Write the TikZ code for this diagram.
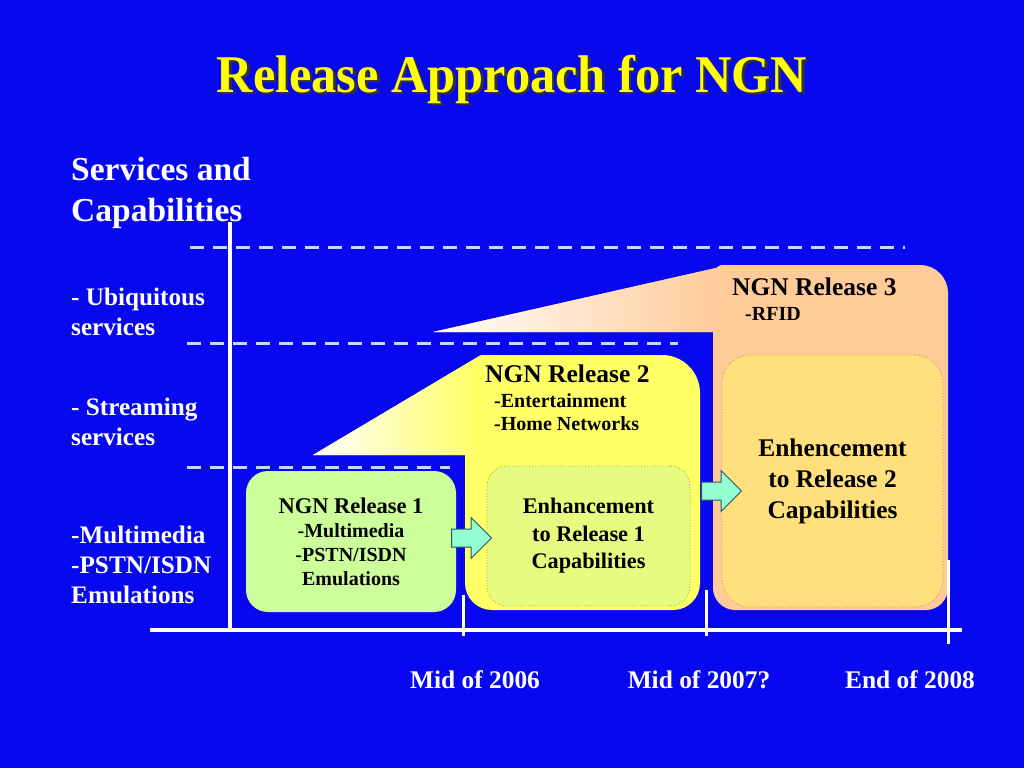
\documentclass[tikz,border=0pt]{standalone}
\usepackage{fontspec}
\usepackage{graphicx}
\setmainfont{Liberation Serif}
\usetikzlibrary{shapes.arrows}
\definecolor{bg}{RGB}{8,8,240}
\definecolor{dashcol}{RGB}{200,215,255}
\definecolor{titlecol}{RGB}{255,255,0}
\definecolor{r1col}{RGB}{204,255,153}
\definecolor{r2col}{RGB}{255,255,102}
\definecolor{r3col}{RGB}{255,204,153}
\definecolor{e1col}{RGB}{230,252,128}
\definecolor{e2col}{RGB}{255,224,125}
\definecolor{e1line}{RGB}{150,150,60}
\definecolor{e2line}{RGB}{180,140,80}
\definecolor{arrfill}{RGB}{150,255,210}
\definecolor{arrline}{RGB}{40,90,90}
\newcommand{\fsz}[2]{\fontsize{#1}{#2}\selectfont\bfseries}
\begin{document}
\begin{tikzpicture}[x=1pt,y=-1pt,
  lbl/.style={inner sep=0pt, text=white, align=left, anchor=base west},
  boxtxt/.style={inner sep=0pt, text=black, align=left, anchor=base west},
  datelbl/.style={inner sep=0pt, text=white, anchor=base, font=\fsz{25.4}{30}},
  dashln/.style={draw=dashcol, line width=3pt, dash pattern=on 14pt off 9pt},
  axis/.style={draw=white, line width=4pt},
  tick/.style={draw=white, line width=3pt},
  inbox/.style={rounded corners=20pt, draw=e1line, dotted, line width=0.8pt, fill=e1col,
    text=black, align=center, inner sep=0pt},
  blockarrow/.style={single arrow, draw=arrline, fill=arrfill, line width=1pt,
    inner xsep=0pt, inner ysep=8.5pt, minimum height=40pt,
    single arrow head extend=11.5pt}
]
\useasboundingbox (0,0) rectangle (1024,768);
\fill[bg] (0,0) rectangle (1024,768);

% title
\node[inner sep=0pt, anchor=base, text=black!80, font=\fsz{53}{60}] (titleshadow) at (514.5,94.5)
  {\scalebox{0.95}[1]{Release Approach for NGN}};
\node[inner sep=0pt, anchor=base, text=titlecol, font=\fsz{53}{60}] (title) at (512,92)
  {\scalebox{0.95}[1]{Release Approach for NGN}};

% dashed level lines
\coordinate (d1a) at (190,247); \coordinate (d1b) at (905,247);
\coordinate (d2a) at (187,343); \coordinate (d2b) at (678,343);
\coordinate (d3a) at (187,467); \coordinate (d3b) at (450,467);
\draw[dashln] (d1a) -- (d1b);
\draw[dashln] (d2a) -- (d2b);
\draw[dashln] (d3a) -- (d3b);

% axes
\coordinate (ytop) at (230,222); \coordinate (ybot) at (230,630);
\coordinate (xl) at (150,630); \coordinate (xr) at (962,630);
\draw[axis] (ytop) -- (ybot);
\draw[axis] (xl) -- (xr);

% release 3 shape
\fill[r3col] (433,332) -- (716,268) .. controls (718,266) and (720,265) .. (724,265)
  -- (920,265) .. controls (935.5,265) and (948,277.5) .. (948,293)
  -- (948,588) .. controls (948,600) and (938,610) .. (926,610)
  -- (735,610) .. controls (723,610) and (713,600) .. (713,588)
  -- (713,332) -- cycle;
\shade[left color=white, right color=r3col] (433,332) -- (716,268) -- (716,332) -- cycle;

% release 2 shape
\fill[r2col] (313,455) -- (476,358) .. controls (478,356) and (480,355) .. (484,355)
  -- (662,355) .. controls (683,355) and (700,372) .. (700,393)
  -- (700,583) .. controls (700,598) and (688,610) .. (673,610)
  -- (492,610) .. controls (477,610) and (465,598) .. (465,583)
  -- (465,455) -- cycle;
\shade[left color=white, right color=r2col] (313,455) -- (476,358) -- (476,455) -- cycle;

% release 1 box
\node[fill=r1col, rounded corners=22pt, minimum width=210pt, minimum height=141pt,
  inner sep=0pt, align=center, text=black, font=\fsz{20}{24}] (r1) at (351,541.5)
  {{\fsz{22.5}{24}NGN Release 1}\\
   -Multimedia\\
   -PSTN/ISDN\\
   Emulations};

% inner enhancement boxes
\node[inbox, minimum width=203pt, minimum height=140pt, font=\fsz{22.3}{27.5}] (e1) at (588.5,536)
  {Enhancement\\to Release 1\\Capabilities};
\node[inbox, draw=e2line, fill=e2col, rounded corners=28pt, minimum width=221pt,
  minimum height=252pt, font=\fsz{25.4}{31}] (e2) at (832.5,481)
  {Enhencement\\to Release 2\\Capabilities};

% release texts
\node[boxtxt, font=\fsz{25.5}{30}] (r2t) at (485,382) {NGN Release 2};
\node[boxtxt, font=\fsz{20}{23}] (r2s) at (494,430) {-Entertainment\\-Home Networks};
\node[boxtxt, font=\fsz{25.5}{30}] (r3t) at (732,295) {NGN Release 3};
\node[boxtxt, font=\fsz{20}{23}] (r3s) at (745,320) {-RFID};

% block arrows
\node[blockarrow] (a1) at (467,538) {};
\node[blockarrow] (a2) at (717,491) {};

% ticks
\coordinate (t1a) at (463,595); \coordinate (t1b) at (463,636);
\coordinate (t2a) at (706,590); \coordinate (t2b) at (706,636);
\coordinate (t3a) at (948,560); \coordinate (t3b) at (948,644);
\draw[tick] (t1a) -- (t1b);
\draw[tick] (t2a) -- (t2b);
\draw[tick] (t3a) -- (t3b);

% left labels (anchor = baseline of last line)
\node[lbl, font=\fsz{33.5}{41}] (sc) at (71,221) {Services and\\Capabilities};
\node[lbl, font=\fsz{25.2}{29.5}] (ubi) at (71,335) {- Ubiquitous\\services};
\node[lbl, font=\fsz{25.2}{30}] (strm) at (71,445) {- Streaming\\services};
\node[lbl, font=\fsz{25.2}{30}] (mm) at (71,603) {-Multimedia\\-PSTN/ISDN\\Emulations};

% dates
\node[datelbl] (dt1) at (475,688) {Mid of 2006};
\node[datelbl] (dt2) at (699,688) {Mid of 2007?};
\node[datelbl] (dt3) at (910,688) {End of 2008};
\end{tikzpicture}
\end{document}
